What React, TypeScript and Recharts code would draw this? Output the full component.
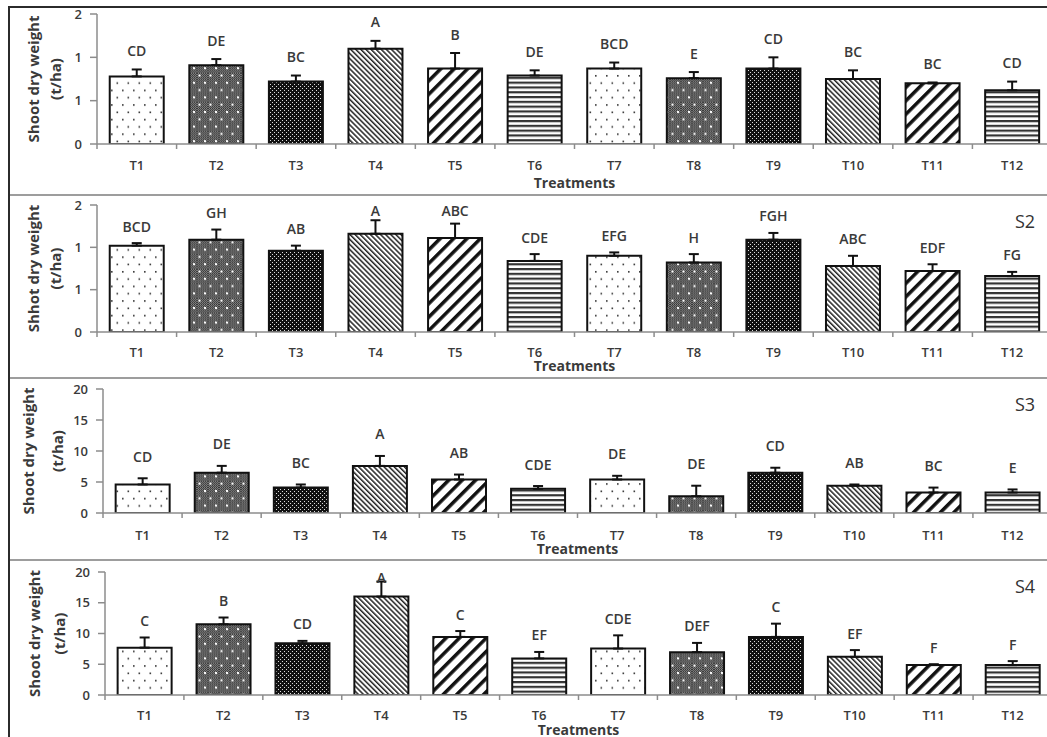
import React from "react";
import { BarChart, Bar, XAxis, YAxis, ErrorBar, Cell, LabelList } from "recharts";

const treatments = ["T1", "T2", "T3", "T4", "T5", "T6", "T7", "T8", "T9", "T10", "T11", "T12"];

// S1 (no tag shown in the figure)
const s1Means = [0.78, 0.91, 0.72, 1.1, 0.87, 0.79, 0.87, 0.76, 0.87, 0.75, 0.7, 0.62];
const s1Errs = [0.08, 0.07, 0.07, 0.09, 0.18, 0.06, 0.07, 0.07, 0.13, 0.1, 0.01, 0.1];
const s1Letters = ["CD", "DE", "BC", "A", "B", "DE", "BCD", "E", "CD", "BC", "BC", "CD"];

// S2
const s2Means = [1.02, 1.09, 0.96, 1.16, 1.11, 0.84, 0.9, 0.82, 1.09, 0.78, 0.72, 0.66];
const s2Errs = [0.03, 0.12, 0.06, 0.16, 0.17, 0.08, 0.04, 0.1, 0.08, 0.12, 0.08, 0.05];
const s2Letters = ["BCD", "GH", "AB", "A", "ABC", "CDE", "EFG", "H", "FGH", "ABC", "EDF", "FG"];

// S3
const s3Means = [4.6, 6.5, 4.1, 7.6, 5.4, 3.9, 5.4, 2.7, 6.5, 4.4, 3.3, 3.3];
const s3Errs = [1.0, 1.1, 0.5, 1.6, 0.8, 0.45, 0.6, 1.7, 0.8, 0.2, 0.8, 0.5];
const s3Letters = ["CD", "DE", "BC", "A", "AB", "CDE", "DE", "DE", "CD", "AB", "BC", "E"];

// S4
const s4Means = [7.7, 11.5, 8.4, 16.0, 9.45, 5.95, 7.55, 6.97, 9.45, 6.2, 4.86, 4.86];
const s4Errs = [1.65, 1.1, 0.4, 2.45, 0.95, 1.05, 2.15, 1.5, 2.15, 1.1, 0.15, 0.65];
const s4Letters = ["C", "B", "CD", "A", "C", "EF", "CDE", "DEF", "C", "EF", "F", "F"];

const smallTicks = [0, 0.5, 1, 1.5];
const bigTicks = [0, 5, 10, 15, 20];

const FONT = "'Open Sans', sans-serif";
const TXT = "#3a3a3a";
const AXIS = "#8c8c8c";
const CHART_W = 1042;

type PanelCfg = {
  top: number;
  height: number;
  yW: number;
  mt: number;
  xH: number;
  tickDy: number;
  treatDy: number;
  t1: number;
  t2: number;
  gap: number;
  title: string;
  tag?: string;
  domain: [number, number];
  ticks: number[];
  round: boolean;
  means: number[];
  errs: number[];
  letters: string[];
};

const panels: PanelCfg[] = [
  { top: 0, height: 194, yW: 87, mt: 14, xH: 50, tickDy: 21, treatDy: 38, t1: 23, t2: 45, gap: 19,
    title: "Shoot dry weight", domain: [0, 1.5], ticks: smallTicks, round: true,
    means: s1Means, errs: s1Errs, letters: s1Letters },
  { top: 196, height: 181, yW: 87, mt: 9, xH: 45, tickDy: 20, treatDy: 33, t1: 23, t2: 45, gap: 17,
    title: "Shhot dry weight", tag: "S2", domain: [0, 1.5], ticks: smallTicks, round: true,
    means: s2Means, errs: s2Errs, letters: s2Letters },
  { top: 379, height: 180, yW: 93, mt: 10, xH: 46, tickDy: 22, treatDy: 35, t1: 18, t2: 47, gap: 22,
    title: "Shoot dry weight", tag: "S3", domain: [0, 20], ticks: bigTicks, round: false,
    means: s3Means, errs: s3Errs, letters: s3Letters },
  { top: 561, height: 176, yW: 95, mt: 11, xH: 42, tickDy: 20, treatDy: 34, t1: 24, t2: 49, gap: 17,
    title: "Shoot dry weight", tag: "S4", domain: [0, 20], ticks: bigTicks, round: false,
    means: s4Means, errs: s4Errs, letters: s4Letters },
];

function Patterns() {
  return (
    <svg width={0} height={0} style={{ position: "absolute" }}>
      <defs>
        <pattern id="chk" width={2} height={2} patternUnits="userSpaceOnUse">
          <rect width={2} height={2} fill="#8a8a8a" />
          <rect width={1} height={1} fill="#333" />
          <rect x={1} y={1} width={1} height={1} fill="#333" />
        </pattern>
        <pattern id="pat0" width={11} height={14.6} patternUnits="userSpaceOnUse">
          <rect width={11} height={14.6} fill="#fff" />
          <rect x={2} y={2} width={1.6} height={1.6} fill="#333" />
          <rect x={7.5} y={9.3} width={1.6} height={1.6} fill="#333" />
        </pattern>
        <pattern id="pat1" width={11} height={14.6} patternUnits="userSpaceOnUse">
          <rect width={11} height={14.6} fill="url(#chk)" />
          <rect x={1.5} y={1.5} width={2} height={2} fill="#fff" />
          <rect x={7} y={8.8} width={2} height={2} fill="#fff" />
        </pattern>
        <pattern id="pat2" width={4} height={4} patternUnits="userSpaceOnUse">
          <rect width={4} height={4} fill="#111" />
          <rect x={0} y={0} width={1} height={1} fill="#ddd" />
          <rect x={2} y={2} width={1} height={1} fill="#ddd" />
        </pattern>
        <pattern id="pat3" width={3.6} height={8} patternUnits="userSpaceOnUse" patternTransform="rotate(-45)">
          <rect width={3.6} height={8} fill="#fff" />
          <rect width={1.5} height={8} fill="#222" />
        </pattern>
        <pattern id="pat4" width={9.5} height={10} patternUnits="userSpaceOnUse" patternTransform="rotate(45)">
          <rect width={9.5} height={10} fill="#fff" />
          <rect width={3.5} height={10} fill="#111" />
        </pattern>
        <pattern id="pat5" width={10} height={4.8} patternUnits="userSpaceOnUse">
          <rect width={10} height={4.8} fill="#fff" />
          <rect width={10} height={2.2} fill="#333" />
        </pattern>
      </defs>
    </svg>
  );
}

function Panel({ cfg }: { cfg: PanelCfg }) {
  const data = treatments.map((t, i) => ({ name: t, mean: cfg.means[i], err: [0, cfg.errs[i]] }));
  const axisY = cfg.height - cfg.xH;
  const band = (CHART_W - cfg.yW) / treatments.length;

  const xTick = (p: any) => {
    const x = p.x;
    const last = p.index === treatments.length - 1;
    return (
      <g>
        <line x1={x - band / 2} x2={x - band / 2} y1={axisY} y2={axisY + 5} stroke={AXIS} strokeWidth={1.5} />
        {last && <line x1={x + band / 2} x2={x + band / 2} y1={axisY} y2={axisY + 5} stroke={AXIS} strokeWidth={1.5} />}
        <text x={x} y={axisY + cfg.tickDy} textAnchor="middle" dominantBaseline="central"
          fill={TXT} fontSize={13} fontWeight={600} fontFamily={FONT}>
          {p.payload.value}
        </text>
      </g>
    );
  };

  const yTitle = (p: any) => {
    const vb = p.viewBox || {};
    const cy = vb.y + vb.height / 2;
    return (
      <g fill={TXT} fontSize={15} fontWeight={700} fontFamily={FONT}>
        <text x={cfg.t1} y={cy} textAnchor="middle" dominantBaseline="central" transform={`rotate(-90, ${cfg.t1}, ${cy})`}>
          {cfg.title}
        </text>
        <text x={cfg.t2} y={cy} textAnchor="middle" dominantBaseline="central" transform={`rotate(-90, ${cfg.t2}, ${cy})`}>
          (t/ha)
        </text>
      </g>
    );
  };

  const xTitle = (p: any) => {
    const vb = p.viewBox || {};
    return (
      <text x={vb.x + vb.width / 2} y={vb.y + cfg.treatDy} textAnchor="middle" dominantBaseline="central"
        fill={TXT} fontSize={14} fontWeight={700} fontFamily={FONT}>
        Treatments
      </text>
    );
  };

  const letter = (p: any) => {
    const vb = p.viewBox && p.viewBox.width != null ? p.viewBox : p;
    const idx = p.index;
    const v = Number(p.value);
    const ppu = vb.height / v;
    const errTop = vb.y - cfg.errs[idx] * ppu;
    const ly = Math.max(cfg.mt + 5, errTop - cfg.gap);
    return (
      <text x={vb.x + vb.width / 2} y={ly} textAnchor="middle" dominantBaseline="central"
        fill={TXT} fontSize={14} fontWeight={600} fontFamily={FONT}>
        {cfg.letters[idx]}
      </text>
    );
  };

  return (
    <div style={{ position: "absolute", left: 10, top: cfg.top, width: 1037, height: cfg.height, overflow: "hidden" }}>
      <BarChart width={CHART_W} height={cfg.height} data={data}
        margin={{ top: cfg.mt, right: 0, bottom: 0, left: 0 }} barCategoryGap="16%">
        <XAxis dataKey="name" interval={0} height={cfg.xH}
          axisLine={{ stroke: AXIS, strokeWidth: 1.5 }} tickLine={false} tick={xTick} label={xTitle} />
        <YAxis width={cfg.yW} domain={cfg.domain} ticks={cfg.ticks} interval={0} allowDataOverflow
          tickFormatter={(v: number) => (cfg.round ? String(Math.round(v)) : String(v))}
          axisLine={{ stroke: AXIS, strokeWidth: 1.5 }} tickLine={{ stroke: AXIS, strokeWidth: 1.5 }}
          tickSize={7} tickMargin={8}
          tick={{ fill: TXT, fontSize: 13, fontWeight: 600, fontFamily: FONT }} label={yTitle} />
        <Bar dataKey="mean" stroke="#111" strokeWidth={2} isAnimationActive={false}>
          {data.map((_, i) => (
            <Cell key={i} fill={`url(#pat${i % 6})`} />
          ))}
          <ErrorBar dataKey="err" direction="y" width={5} stroke="#111" strokeWidth={2} isAnimationActive={false} />
          <LabelList dataKey="mean" content={letter} />
        </Bar>
        {cfg.tag && (
          <text x={1015} y={25} textAnchor="middle" dominantBaseline="central" fill="#333" fontSize={18} fontFamily={FONT}>
            {cfg.tag}
          </text>
        )}
      </BarChart>
    </div>
  );
}

export default function App() {
  return (
    <div style={{ position: "absolute", left: 0, top: 0, width: 1047, height: 737, background: "#fff", overflow: "hidden" }}>
      <Patterns />
      {panels.map((p, i) => (
        <Panel key={i} cfg={p} />
      ))}
      <div style={{ position: "absolute", left: 0, top: 0, width: 1047, height: 6, background: "#fff" }} />
      <div style={{ position: "absolute", left: 8, top: 6, width: 1039, height: 2, background: "#2b2b2b" }} />
      <div style={{ position: "absolute", left: 8, top: 6, width: 2, height: 731, background: "#2b2b2b" }} />
      <div style={{ position: "absolute", left: 10, top: 194, width: 1037, height: 2, background: "#9d9d9d" }} />
      <div style={{ position: "absolute", left: 10, top: 377, width: 1037, height: 2, background: "#9d9d9d" }} />
      <div style={{ position: "absolute", left: 10, top: 559, width: 1037, height: 2, background: "#9d9d9d" }} />
    </div>
  );
}
